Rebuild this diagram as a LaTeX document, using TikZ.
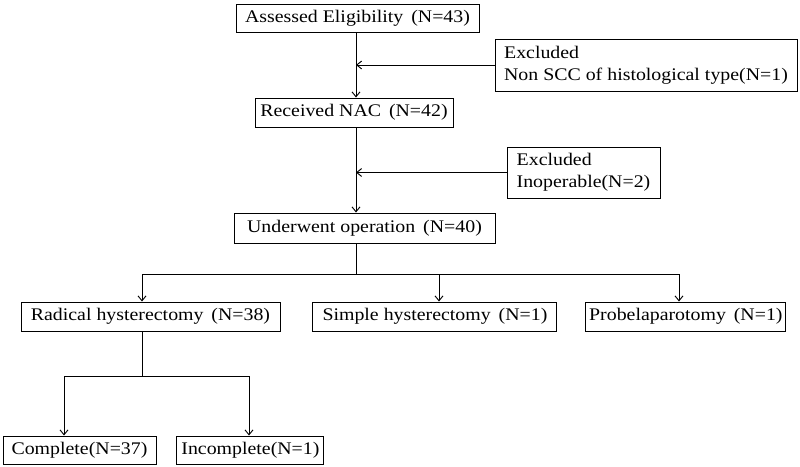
\documentclass[tikz,border=0pt]{standalone}
\usepackage{fontspec}
\setmainfont[FakeStretch=1.12]{Liberation Serif}
\usepackage{tikz}
\usetikzlibrary{positioning}
\usetikzlibrary{arrows.meta}
\tikzset{>={Straight Barb[width=2.1mm,length=1.3mm]}}
\tikzset{block/.style = {draw, fill=white, rectangle, line width=0.7pt,
                  inner sep=0pt, minimum height=21.75pt,
                  font=\fontsize{13.3}{16.5}\selectfont},
        note/.style = {block, align=left},
        junction/.style = {coordinate}
    }

\begin{document}
\begin{tikzpicture}[x=0.75pt, y=-0.75pt, line width=0.7pt]
          \useasboundingbox (0,0) rectangle (800,467);

          % main column
          \node[block, minimum width=182.25pt, minimum height=21pt] (ae) at (357.5,18) {Assessed Eligibility \,(N=43)};
          \node[note, minimum width=226.5pt, minimum height=39pt] (ex1) at (646,65) {Excluded\\Non SCC of histological type(N=1)};
          \node[block, minimum width=148.5pt] (nac) at (354,112.5) {Received NAC \,(N=42)};
          \node[note, minimum width=114.75pt, minimum height=38.25pt] (ex2) at (583.5,172.5) {Excluded\\Inoperable(N=2)};
          \node[block, minimum width=195.75pt, minimum height=22.5pt] (op) at (364.5,228) {Underwent operation \,(N=40)};

          % operations
          \node[block, minimum width=194.25pt] (rad) at (150.5,316.5) {Radical hysterectomy \,(N=38)};
          \node[block, minimum width=183pt, right=24pt of rad] (sim) {Simple hysterectomy \,(N=1)};
          \node[block, minimum width=150pt, right=21pt of sim] (pro) {Probelaparotomy \,(N=1)};

          % radical
          \node[block, minimum width=114.75pt, minimum height=21pt] (com) at (79.5,450) {Complete(N=37)};
          \node[block, minimum width=110.25pt, minimum height=21pt, right=15pt of com] (inc) {Incomplete(N=1)};

          \node[junction] (j1) at (356,65) {};
          \node[junction] (j2) at (356,172.5) {};
          \draw[->] (ae.south -| j1) -- (nac.north -| j1);
          \draw[->] (ex1.west) -- (j1);
          \draw[->] (nac.south -| j2) -- (op.north -| j2);
          \draw[->] (ex2.west) -- (j2);

          \node[junction] (b0) at (356,274) {};
          \node[junction] (bl) at (142,274) {};
          \node[junction] (bm) at (439,274) {};
          \node[junction] (br) at (679,274) {};
          \draw (op.south -| b0) -- (b0);
          \draw (bl) -- (br);
          \draw[->] (bl) -- (rad.north -| bl);
          \draw[->] (bm) -- (sim.north -| bm);
          \draw[->] (br) -- (pro.north -| br);

          \node[junction] (s0) at (142,376) {};
          \node[junction] (sl) at (64,376) {};
          \node[junction] (sr) at (249,376) {};
          \draw (rad.south -| s0) -- (s0);
          \draw (sl) -- (sr);
          \draw[->] (sl) -- (com.north -| sl);
          \draw[->] (sr) -- (inc.north -| sr);
        \end{tikzpicture}
\end{document}
